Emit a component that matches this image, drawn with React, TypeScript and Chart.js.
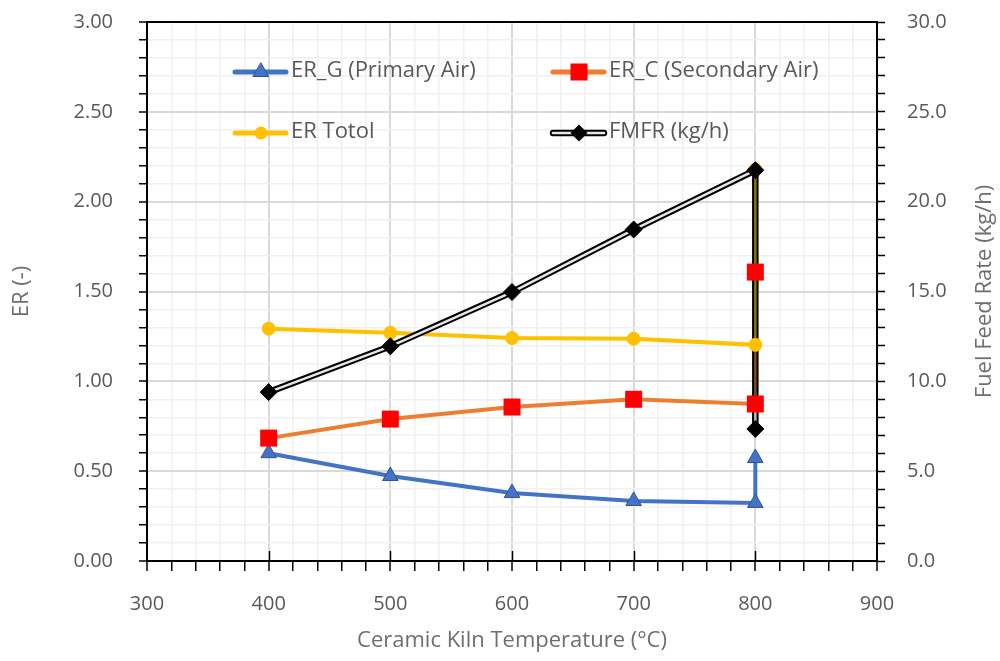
import React, { useEffect, useRef } from 'react';
import { Chart, registerables } from 'chart.js';

Chart.register(...registerables);

// ---- data ----
const temps = [400, 500, 600, 700, 800, 800];
const erG = [0.6, 0.473, 0.378, 0.334, 0.323, 0.573];
const erC = [0.684, 0.79, 0.857, 0.9, 0.874, 1.608];
const erTotal = [1.293, 1.27, 1.241, 1.237, 1.203, 2.18];
const fmfr = [9.4, 11.95, 14.97, 18.45, 21.75, 7.35];

const legendLabels = ['ER_G (Primary Air)', 'ER_C (Secondary Air)', 'ER Totol', 'FMFR (kg/h)'];
const xTitle = 'Ceramic Kiln Temperature (°C)';
const leftTitle = 'ER (-)';
const rightTitle = 'Fuel Feed Rate (kg/h)';

const FONT = "'Open Sans', 'Noto Sans', sans-serif";
const TXT = '#595959';
const TITLE = '#6e6e6e';
const BLUE = '#4472C4';
const ORANGE = '#ED7D31';
const YELLOW = '#FFC000';
const RED = '#FF0000';

const pts = (vals: number[]) => temps.map((x, i) => ({ x, y: vals[i] }));

function drawMarker(ctx: CanvasRenderingContext2D, kind: string, x: number, y: number) {
  ctx.save();
  ctx.beginPath();
  if (kind === 'triangle') {
    const r = 9;
    for (let k = 0; k < 3; k++) {
      const a = -Math.PI / 2 + (k * 2 * Math.PI) / 3;
      const px = x + r * Math.cos(a);
      const py = y + r * Math.sin(a);
      if (k === 0) ctx.moveTo(px, py); else ctx.lineTo(px, py);
    }
    ctx.closePath();
    ctx.fillStyle = BLUE;
    ctx.strokeStyle = '#2f5597';
    ctx.lineWidth = 1;
    ctx.fill();
    ctx.stroke();
  } else if (kind === 'rect') {
    ctx.fillStyle = RED;
    ctx.fillRect(x - 8.5, y - 8.5, 17, 17);
  } else if (kind === 'circle') {
    ctx.arc(x, y, 6.5, 0, Math.PI * 2);
    ctx.fillStyle = YELLOW;
    ctx.fill();
  } else {
    const r = 8.5;
    ctx.moveTo(x - r, y);
    ctx.lineTo(x, y - r);
    ctx.lineTo(x + r, y);
    ctx.lineTo(x, y + r);
    ctx.closePath();
    ctx.fillStyle = '#000';
    ctx.fill();
  }
  ctx.restore();
}

const decorPlugin = {
  id: 'decor',
  afterDraw(chart: any) {
    const { ctx, chartArea } = chart;
    const { left, right, top, bottom } = chartArea;
    ctx.save();
    // top border
    ctx.strokeStyle = '#000';
    ctx.lineWidth = 2;
    ctx.beginPath();
    ctx.moveTo(left - 1, top);
    ctx.lineTo(right + 1, top);
    ctx.stroke();
    // major x ticks crossing inward
    const xs = chart.scales.x;
    ctx.lineWidth = 1.5;
    for (let v = 400; v <= 800; v += 100) {
      const px = Math.round(xs.getPixelForValue(v)) + 0.5;
      ctx.beginPath();
      ctx.moveTo(px, bottom - 10);
      ctx.lineTo(px, bottom);
      ctx.stroke();
    }
    // right axis title
    ctx.fillStyle = TITLE;
    ctx.font = `22px ${FONT}`;
    ctx.textAlign = 'center';
    ctx.textBaseline = 'middle';
    ctx.translate(985, (top + bottom) / 2);
    ctx.rotate(-Math.PI / 2);
    ctx.fillText(rightTitle, 0, 0);
    ctx.restore();

    // legend
    ctx.save();
    const cols = [235, 553];
    const rows = [72, 133];
    const items = [
      { color: BLUE, marker: 'triangle', double: false },
      { color: ORANGE, marker: 'rect', double: false },
      { color: YELLOW, marker: 'circle', double: false },
      { color: '#000', marker: 'diamond', double: true },
    ];
    ctx.font = `22px ${FONT}`;
    ctx.textAlign = 'left';
    ctx.textBaseline = 'middle';
    items.forEach((it, i) => {
      const x0 = cols[i % 2];
      const y0 = rows[Math.floor(i / 2)];
      ctx.lineCap = 'round';
      ctx.beginPath();
      ctx.moveTo(x0, y0);
      ctx.lineTo(x0 + 51, y0);
      if (it.double) {
        ctx.strokeStyle = '#000';
        ctx.lineWidth = 6.5;
        ctx.stroke();
        ctx.beginPath();
        ctx.moveTo(x0, y0);
        ctx.lineTo(x0 + 51, y0);
        ctx.strokeStyle = '#e7e7e7';
        ctx.lineWidth = 2.5;
        ctx.stroke();
      } else {
        ctx.strokeStyle = it.color;
        ctx.lineWidth = 5;
        ctx.stroke();
      }
      drawMarker(ctx, it.marker, x0 + 26, y0);
      ctx.fillStyle = TXT;
      ctx.fillText(legendLabels[i], x0 + 56, y0 - 1);
    });
    ctx.restore();
  },
};

const isMult = (v: number, step: number) => Math.abs(v / step - Math.round(v / step)) < 1e-6;

export default function App() {
  const ref = useRef<HTMLCanvasElement | null>(null);

  useEffect(() => {
    document.body.style.margin = '0';
    const canvas = ref.current;
    if (!canvas) return;

    const innerSegColor = (c: any) => {
      const { p0, p1 } = c;
      if (Math.abs(p0.x - p1.x) > 0.5) return '#e7e7e7';
      const chart = c.chart;
      const yTop = Math.min(p0.y, p1.y);
      const yBot = Math.max(p0.y, p1.y);
      const span = Math.max(1, yBot - yTop);
      const yT = chart.scales.y.getPixelForValue(erTotal[4]);
      const yC = chart.scales.y.getPixelForValue(erC[4]);
      const f1 = Math.min(1, Math.max(0, (yT - yTop) / span));
      const f2 = Math.min(1, Math.max(f1, (yC - yTop) / span));
      const g = chart.ctx.createLinearGradient(0, yTop, 0, yBot);
      g.addColorStop(0, '#8f7014');
      g.addColorStop(f1, '#8f7014');
      g.addColorStop(f1, '#7d4a26');
      g.addColorStop(f2, '#7d4a26');
      g.addColorStop(f2, '#bdbdbd');
      g.addColorStop(1, '#bdbdbd');
      return g;
    };

    const noPadY = (w: number) => (s: any) => {
      s.width = w;
      s.paddingTop = 0;
      s.paddingBottom = 0;
    };

    const chart = new Chart(canvas, {
      type: 'line',
      data: {
        datasets: [
          { label: 'ER_G line', data: pts(erG), borderColor: BLUE, borderWidth: 4, pointRadius: 0, yAxisID: 'y', order: 10 },
          { label: 'ER_C line', data: pts(erC), borderColor: ORANGE, borderWidth: 4, pointRadius: 0, yAxisID: 'y', order: 12 },
          { label: 'ER Total line', data: pts(erTotal), borderColor: YELLOW, borderWidth: 4, pointRadius: 0, yAxisID: 'y', order: 11 },
          { label: 'FMFR outer', data: pts(fmfr), borderColor: '#000', borderWidth: 6.5, pointRadius: 0, yAxisID: 'y1', order: 9 },
          { label: 'FMFR inner', data: pts(fmfr), borderColor: '#e7e7e7', borderWidth: 2.5, pointRadius: 0, yAxisID: 'y1', order: 8, segment: { borderColor: innerSegColor } },
          { label: 'ER_G', data: pts(erG), showLine: false, pointStyle: 'triangle', pointRadius: 9, backgroundColor: BLUE, borderColor: '#2f5597', borderWidth: 1, yAxisID: 'y', order: 4 },
          { label: 'ER Totol', data: pts(erTotal), showLine: false, pointStyle: 'circle', pointRadius: 6.5, backgroundColor: YELLOW, borderColor: YELLOW, borderWidth: 1, yAxisID: 'y', order: 3 },
          { label: 'ER_C', data: pts(erC), showLine: false, pointStyle: 'rect', pointRadius: 12, backgroundColor: RED, borderColor: RED, borderWidth: 0, yAxisID: 'y', order: 2 },
          { label: 'FMFR', data: pts(fmfr), showLine: false, pointStyle: 'rectRot', pointRadius: 8.5, backgroundColor: '#000', borderColor: '#000', borderWidth: 1, yAxisID: 'y1', order: 1 },
        ] as any,
      },
      options: {
        responsive: false,
        animation: false,
        events: [],
        layout: { padding: { top: 22, left: 0, right: 0, bottom: 0 } },
        plugins: { legend: { display: false }, tooltip: { enabled: false } },
        scales: {
          x: {
            type: 'linear',
            min: 300,
            max: 900,
            afterFit: (s: any) => { s.height = 100; s.paddingLeft = 0; s.paddingRight = 0; },
            ticks: {
              stepSize: 20,
              autoSkip: false,
              maxRotation: 0,
              padding: 21,
              color: TXT,
              font: { family: FONT, size: 20 },
              callback: (v: any) => (isMult(Number(v), 100) ? String(v) : ''),
            },
            grid: {
              color: (c: any) => (c.tick && isMult(c.tick.value, 100) ? '#d9d9d9' : '#f0f0f0'),
              lineWidth: (c: any) => (c.tick && isMult(c.tick.value, 100) ? 2 : 1.5),
              tickColor: '#000',
              tickLength: 10,
              tickWidth: 1.5,
            },
            border: { color: '#000', width: 2 },
            title: {
              display: true,
              text: xTitle,
              color: TITLE,
              font: { family: FONT, size: 22, lineHeight: 1.2 },
              padding: { top: 0, bottom: 7 },
            },
          },
          y: {
            type: 'linear',
            position: 'left',
            min: 0,
            max: 3,
            afterFit: noPadY(147),
            ticks: {
              stepSize: 0.1,
              autoSkip: false,
              padding: 26,
              color: TXT,
              font: { family: FONT, size: 20 },
              callback: (v: any) => (isMult(Number(v), 0.5) ? Number(v).toFixed(2) : ''),
            },
            grid: {
              color: (c: any) => (c.tick && isMult(c.tick.value, 0.5) ? '#d9d9d9' : '#f0f0f0'),
              lineWidth: (c: any) => (c.tick && isMult(c.tick.value, 0.5) ? 2 : 1.5),
              tickColor: '#000',
              tickLength: 8,
              tickWidth: 1.5,
            },
            border: { color: '#000', width: 2 },
            title: {
              display: true,
              text: leftTitle,
              color: TITLE,
              font: { family: FONT, size: 22, lineHeight: 1.2 },
              padding: { top: 9, bottom: 0 },
            },
          },
          y1: {
            type: 'linear',
            position: 'right',
            min: 0,
            max: 30,
            afterFit: noPadY(123),
            ticks: {
              stepSize: 1,
              autoSkip: false,
              padding: 22,
              color: TXT,
              font: { family: FONT, size: 20 },
              callback: (v: any) => (isMult(Number(v), 5) ? Number(v).toFixed(1) : ''),
            },
            grid: {
              drawOnChartArea: false,
              color: '#000',
              tickColor: '#000',
              tickLength: 8,
              tickWidth: 1.5,
            },
            border: { color: '#000', width: 2 },
          },
        },
      } as any,
      plugins: [decorPlugin],
    });

    return () => chart.destroy();
  }, []);

  return (
    <div style={{ width: 1000, height: 661, background: '#fff' }}>
      <canvas ref={ref} width={1000} height={661} style={{ display: 'block' }} />
    </div>
  );
}
